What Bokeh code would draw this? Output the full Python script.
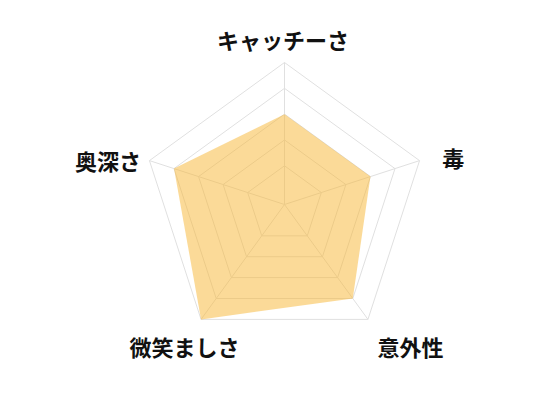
import numpy as np
from bokeh.plotting import figure
from bokeh.models import Range1d, ColumnDataSource
from bokeh.core.properties import value
from bokeh.embed import file_html
from bokeh.resources import INLINE

# ---- data ----
categories = ["キャッチーさ", "毒", "意外性", "微笑ましさ", "奥深さ"]
scores = [3, 3, 4, 5, 4]
ring_values = [1, 2, 3, 4, 5]
scale_min = -0.5
scale_max = 5

# ---- layout ----
R = 142.0
n = len(categories)
angles = np.pi / 2 - 2 * np.pi * np.arange(n) / n


def radius(v):
    return R * (np.asarray(v, dtype=float) - scale_min) / (scale_max - scale_min)


p = figure(width=544, height=384,
           x_range=Range1d(-284, 260), y_range=Range1d(-180, 204),
           output_backend="svg", toolbar_location=None, min_border=0)
p.axis.visible = False
p.grid.visible = False
p.outline_line_color = None
p.background_fill_color = "white"
p.border_fill_color = "white"

# rings
ring_xs, ring_ys = [], []
for rv in ring_values:
    r = float(radius(rv))
    xs = list(r * np.cos(angles)) + [r * np.cos(angles[0])]
    ys = list(r * np.sin(angles)) + [r * np.sin(angles[0])]
    ring_xs.append(xs)
    ring_ys.append(ys)
p.multi_line(ring_xs, ring_ys, line_color="#e0e0e0", line_width=1)

# spokes
rmax = float(radius(scale_max))
spoke_xs = [[0, rmax * np.cos(a)] for a in angles]
spoke_ys = [[0, rmax * np.sin(a)] for a in angles]
p.multi_line(spoke_xs, spoke_ys, line_color="#e0e0e0", line_width=1)

# data polygon
rd = radius(scores)
p.patch(list(rd * np.cos(angles)), list(rd * np.sin(angles)),
        fill_color="#F7B531", fill_alpha=0.5, line_color=None)

# labels
label_pos = [(-1.5, 166), (168.7, 47.5), (126, -141), (-100, -141), (-176.5, 44.5)]
src = ColumnDataSource(dict(x=[q[0] for q in label_pos], y=[q[1] for q in label_pos],
                            t=categories))
p.text(x="x", y="y", text="t", source=src,
       text_font=value("Noto Sans CJK JP"), text_font_size="22px",
       text_font_style="bold", text_align="center", text_baseline="middle",
       text_color="#111111")

open("out.html", "w").write(file_html(p, INLINE))
